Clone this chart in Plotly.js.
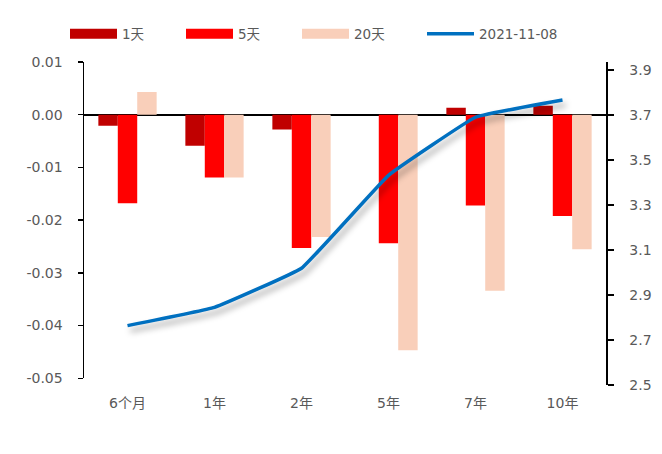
<!DOCTYPE html>
<html>
<head>
<meta charset="utf-8">
<script src="https://cdn.plot.ly/plotly-3.0.1.min.js"></script>
<style>
  html, body { margin: 0; padding: 0; background: #fff; }
  #chart { width: 662px; height: 454px; }
</style>
</head>
<body>
<div id="chart"></div>
<script>
// Tenors on the category axis
const tenors = ['6个月', '1年', '2年', '5年', '7年', '10年'];
// Yield changes over 1, 5 and 20 days (left axis)
const chg1d  = [-0.0021, -0.0059, -0.0028, 0.0000, 0.0013, 0.0017];
const chg5d  = [-0.0168, -0.0119, -0.0253, -0.0244, -0.0172, -0.0192];
const chg20d = [0.0043, -0.0119, -0.0232, -0.0447, -0.0334, -0.0255];
// Yield curve level on 2021-11-08 (right axis)
const curve  = [2.764, 2.845, 3.019, 3.432, 3.690, 3.767];

const seriesNames = ['1天', '5天', '20天', '2021-11-08'];
const leftTicks  = [0.01, 0.00, -0.01, -0.02, -0.03, -0.04, -0.05];
const rightTicks = [2.5, 2.7, 2.9, 3.1, 3.3, 3.5, 3.7, 3.9];

const colors = ['#C00000', '#FF0000', '#F9CFBA', '#0070C0'];
const font = 'DejaVu Sans, Noto Sans CJK SC, sans-serif';
const grey = '#595959';

// frame geometry (px)
const W = 662, H = 454;
const mL = 84, mR = 56, mT = 62, mB = 69;
const plotH = H - mT - mB;
const leftBottomPx = 378.3;               // bottom of the left axis
const yDomLo = Math.max(0, (H - mB - leftBottomPx) / plotH);
const yRange = [-0.05, 0.01];
const zeroFrac = yDomLo + (0 - yRange[0]) / (yRange[1] - yRange[0]) * (1 - yDomLo);
// right axis: 0.2 per 45 px, 2.5 at the bottom of the frame
const y2PerPx = 0.2 / 45;
const y2Range = [2.5, 2.5 + plotH * y2PerPx];

const barTrace = (vals, i) => ({
  type: 'bar', x: tenors, y: vals, name: seriesNames[i],
  marker: { color: colors[i], line: { width: 0 } },
  xaxis: 'x', yaxis: 'y', showlegend: false, hoverinfo: 'skip'
});

// legend-only swatches (wide flat bars, like the chart's key)
const keyTrace = (i, w, legend) => ({
  type: 'scatter', mode: 'lines', x: [null], y: [null], name: seriesNames[i],
  line: { color: colors[i], width: w }, xaxis: 'x', yaxis: 'y',
  legend: legend, showlegend: true, hoverinfo: 'skip'
});

const data = [
  barTrace(chg1d, 0), barTrace(chg5d, 1), barTrace(chg20d, 2),
  {
    type: 'scatter', mode: 'lines', x: tenors, y: curve, name: seriesNames[3],
    line: { color: colors[3], width: 3.5, shape: 'spline', smoothing: 0.25 },
    xaxis: 'x', yaxis: 'y2', showlegend: false, hoverinfo: 'skip'
  },
  keyTrace(0, 10, 'legend'), keyTrace(1, 10, 'legend'), keyTrace(2, 10, 'legend'),
  keyTrace(3, 3.5, 'legend2')
];

const legendBase = {
  orientation: 'h', xref: 'container', yref: 'container',
  yanchor: 'middle', xanchor: 'left', itemwidth: 47,
  font: { family: font, size: 13.5, color: grey },
  bgcolor: 'rgba(0,0,0,0)', traceorder: 'normal'
};

const fmt = (v, d) => v.toFixed(d);

const layout = {
  width: W, height: H,
  margin: { l: mL, r: mR, t: mT, b: mB, pad: 0 },
  paper_bgcolor: '#fff', plot_bgcolor: 'rgba(0,0,0,0)',
  barmode: 'group', bargap: 0.33, bargroupgap: 0,
  font: { family: font, size: 14, color: grey },
  showlegend: true,
  legend: Object.assign({}, legendBase, { x: 65 / W, y: 1 - 34 / H, entrywidth: 54 }),
  legend2: Object.assign({}, legendBase, { x: 422 / W, y: 1 - 34 / H }),
  xaxis: {
    type: 'category', anchor: 'y', domain: [0, 1],
    showline: false, ticks: '', showgrid: false, zeroline: false,
    ticklabelstandoff: 15, tickfont: { family: font, size: 14, color: grey }
  },
  // category boundary ticks drawn along the zero line
  xaxis2: {
    overlaying: 'x', anchor: 'free', position: zeroFrac, side: 'bottom',
    type: 'linear', range: [-0.5, tenors.length - 0.5],
    tickvals: tenors.slice(1).map((_, i) => i + 0.5),
    ticks: 'outside', ticklen: 5, tickwidth: 1.5, tickcolor: '#000',
    showticklabels: false, showline: false, showgrid: false, zeroline: false
  },
  yaxis: {
    domain: [yDomLo, 1], range: yRange, anchor: 'x',
    tickvals: leftTicks, ticktext: leftTicks.map(v => fmt(v, 2)),
    tickfont: { family: font, size: 14, color: grey },
    showline: true, linecolor: '#000', linewidth: 1.5,
    ticks: 'outside', ticklen: 5, tickwidth: 1.5, tickcolor: '#000',
    ticklabelstandoff: 12,
    showgrid: false, zeroline: true, zerolinecolor: '#000', zerolinewidth: 2
  },
  yaxis2: {
    domain: [0, 1], range: y2Range, anchor: 'x', side: 'right',
    tickvals: rightTicks, ticktext: rightTicks.map(v => fmt(v, 1)),
    tickfont: { family: font, size: 14, color: grey },
    showline: true, linecolor: '#000', linewidth: 1.5,
    ticks: 'outside', ticklen: 6, tickwidth: 1.5, tickcolor: '#000',
    ticklabelstandoff: 13,
    showgrid: false, zeroline: false
  }
};

Plotly.newPlot('chart', data, layout, { staticPlot: true }).then(gd => {
  // soft drop shadow under the curve line
  gd.querySelectorAll('.scatterlayer .trace').forEach(g => {
    if (g.querySelector('.js-line')) {
      g.style.filter = 'drop-shadow(3px 5px 3px rgba(0,0,0,0.35))';
    }
  });
});
</script>
</body>
</html>
